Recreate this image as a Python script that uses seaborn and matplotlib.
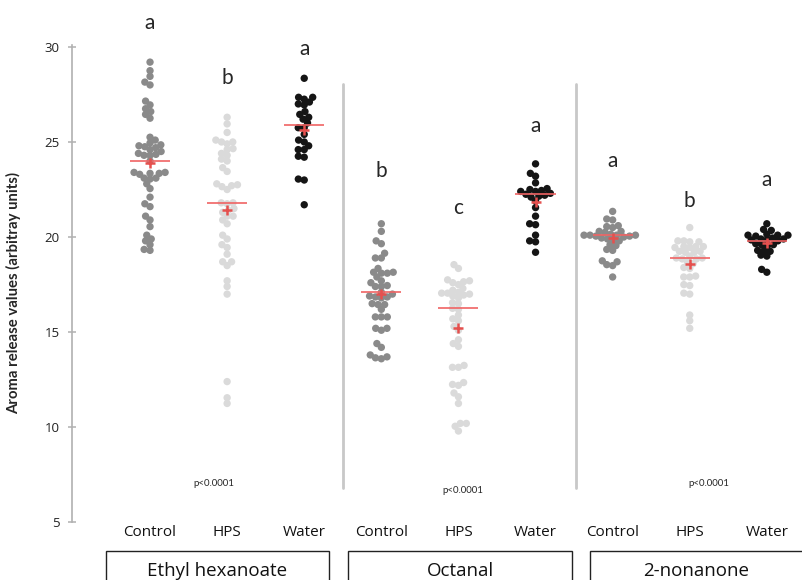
import numpy as np
import pandas as pd
import matplotlib
matplotlib.use("Agg")
import matplotlib.pyplot as plt
import seaborn as sns
from matplotlib.patches import Rectangle
from matplotlib.transforms import blended_transform_factory

compounds = ["Ethyl hexanoate", "Octanal", "2-nonanone"]
conditions = ["Control", "HPS", "Water"]

eh_control = [29.2, 28.75, 28.45, 28.15, 28.0, 27.15, 26.95, 26.75, 26.6, 26.45, 26.25, 25.25,
              25.1, 24.95, 24.85, 24.8, 24.75, 24.7, 24.6, 24.5, 24.4, 24.35, 24.3, 24.3, 24.0,
              23.4, 23.4, 23.35, 23.35, 23.3, 23.1, 23.1, 23.05, 22.8, 22.55, 22.1, 21.75, 21.6,
              21.1, 20.9, 20.55, 20.1, 19.9, 19.8, 19.6, 19.35, 19.3]
eh_hps = [26.3, 25.95, 25.5, 25.1, 25.0, 25.0, 24.9, 24.65, 24.6, 24.4, 24.3, 24.1, 24.0, 23.65,
          23.45, 22.8, 22.75, 22.7, 22.65, 22.5, 21.8, 21.8, 21.75, 21.5, 21.4, 21.3, 21.1, 21.1,
          20.9, 20.7, 20.1, 19.9, 19.6, 19.45, 19.1, 18.7, 18.7, 18.5, 17.7, 17.4, 17.0, 12.4,
          11.55, 11.25]
eh_water = [28.35, 27.35, 27.35, 27.25, 27.1, 27.0, 26.95, 26.6, 26.45, 26.3, 26.2, 26.0, 25.75,
            25.75, 25.4, 25.1, 25.0, 24.8, 24.6, 24.6, 24.25, 24.2, 23.05, 23.0, 21.7]
oc_control = [20.7, 20.3, 19.8, 19.65, 19.15, 18.9, 18.9, 18.35, 18.15, 18.1, 18.1, 18.15, 17.9,
              17.7, 17.6, 17.4, 17.4, 17.45, 17.1, 17.0, 16.9, 16.85, 16.85, 16.8, 16.5, 16.45,
              16.45, 16.2, 15.8, 15.8, 15.8, 15.2, 15.1, 15.2, 14.4, 14.2, 13.8, 13.7, 13.65, 13.6]
oc_hps = [18.55, 18.35, 17.75, 17.7, 17.65, 17.6, 17.5, 17.3, 17.2, 17.1, 17.05, 17.05, 17.0,
          16.95, 16.9, 16.8, 16.55, 16.5, 16.25, 16.2, 15.9, 15.7, 15.6, 15.3, 15.1, 14.6, 14.4,
          14.25, 13.25, 13.15, 13.15, 12.35, 12.25, 12.2, 11.8, 11.6, 11.25, 10.2, 10.2, 10.05, 9.8]
oc_water = [23.85, 23.35, 23.2, 22.85, 22.55, 22.5, 22.45, 22.4, 22.4, 22.3, 22.25, 22.2, 22.15,
            22.1, 21.9, 21.55, 21.1, 20.7, 20.65, 20.1, 19.8, 19.75, 19.2]
nn_control = [21.35, 20.95, 20.9, 20.6, 20.55, 20.5, 20.3, 20.3, 20.25, 20.15, 20.1, 20.1, 20.1,
              20.1, 20.05, 20.05, 20.0, 19.95, 19.9, 19.85, 19.8, 19.6, 19.55, 19.35, 19.3, 18.75,
              18.7, 18.55, 18.5, 17.9]
nn_hps = [20.5, 19.8, 19.8, 19.75, 19.75, 19.5, 19.5, 19.5, 19.45, 19.45, 19.25, 19.2, 19.2, 19.25,
          19.0, 18.9, 18.9, 18.85, 18.85, 18.7, 18.6, 18.4, 18.35, 17.9, 17.9, 17.95, 17.5, 17.45,
          17.05, 17.0, 15.9, 15.6, 15.2]
nn_water = [20.7, 20.4, 20.35, 20.15, 20.1, 20.1, 20.05, 20.1, 19.95, 19.9, 19.9, 19.85, 19.85,
            19.8, 19.65, 19.6, 19.6, 19.55, 19.3, 19.3, 19.25, 19.05, 19.0, 18.3, 18.15]

medians = [24.0, 21.8, 25.88, 17.1, 16.25, 22.26, 20.1, 18.88, 19.79]
means = [23.9, 21.4, 25.63, 17.0, 15.2, 21.86, 19.93, 18.58, 19.67]
letters = ["a", "b", "a", "b", "c", "a", "a", "b", "a"]
letter_y = [30.93, 28.05, 29.58, 23.14, 21.2, 25.54, 23.7, 21.56, 22.68]
p_texts = ["p<0.0001", "p<0.0001", "p<0.0001"]
p_x = [0.83, 4.06, 7.25]
p_y = [7.05, 6.68, 7.05]

series = [eh_control, eh_hps, eh_water, oc_control, oc_hps, oc_water, nn_control, nn_hps, nn_water]
keys = [f"{c}|{k}" for c in compounds for k in conditions]
rows = []
for key, vals in zip(keys, series):
    for v in vals:
        rows.append({"group": key, "value": v})
df = pd.DataFrame(rows)

cond_colors = {"Control": "#8a8a8a", "HPS": "#dadada", "Water": "#151515"}
palette = {k: cond_colors[k.split("|")[1]] for k in keys}

sns.set_theme(style="white")
plt.rcParams["font.family"] = ["Open Sans", "DejaVu Sans"]

fig = plt.figure(figsize=(8.02, 5.80), dpi=100)
ax = fig.add_axes([72 / 802, 57.7 / 580, (800 - 72) / 802, (522.3 - 45) / 580])

# swarm laid out with a compact spacing, then dots drawn larger (overlapping like the original)
sns.swarmplot(data=df, x="group", y="value", hue="group", order=keys, palette=palette,
              size=4.1, linewidth=0, legend=False, ax=ax, zorder=2)
ax.set_xlim(-1.012, 8.43)
ax.set_ylim(5, 30.1)
fig.canvas.draw()
for coll in list(ax.collections):
    if "draw" in coll.__dict__:
        del coll.draw
    coll.set_sizes([5.3 ** 2])

xs = np.arange(len(keys))
ax.hlines(medians, xs - 0.26, xs + 0.26, colors="#f06464", linewidth=1.2, zorder=3)
ax.plot(xs, means, linestyle="none", marker="+", markersize=7.5, markeredgewidth=1.8,
        color="#e5504e", zorder=4)

ax.set_xlim(-1.012, 8.43)
ax.set_ylim(5, 30.1)
ax.set_yticks([5, 10, 15, 20, 25, 30])
ax.set_xticks(xs)
ax.set_xticklabels([k.split("|")[1] for k in keys], fontsize=11, color="#111111")
ax.set_xlabel("")
ax.set_ylabel("")
for s in ["top", "right", "bottom"]:
    ax.spines[s].set_visible(False)
ax.spines["left"].set_color("#b0b0b0")
ax.spines["left"].set_linewidth(1.2)
ax.tick_params(axis="x", length=0, pad=2)
ax.tick_params(axis="y", left=True, direction="inout", length=6, width=1.1, color="#b0b0b0",
               labelsize=9.5, labelcolor="#222222", pad=6)

# divider lines between compounds
for dx in [(343 - 150) / 77.1, (575.5 - 150) / 77.1]:
    ax.plot([dx, dx], [6.8, 28.05], color="#c8c8c8", linewidth=2.0, zorder=1, clip_on=False)

# significance letters
for i, (lt, ly) in enumerate(zip(letters, letter_y)):
    ax.text(i, ly, lt, ha="center", va="baseline", fontsize=15, family=["Lato", "DejaVu Sans"],
            clip_on=False)

for px, py, pt in zip(p_x, p_y, p_texts):
    ax.text(px, py, pt, ha="center", va="center", fontsize=7, family=["Lato", "DejaVu Sans"])

# compound boxes below axis
trans = blended_transform_factory(ax.transData, fig.transFigure)
box_spans = [(-0.57, 2.32), (2.57, 5.47), (5.70, 8.6)]
box_top = (580 - 550.5) / 580
for (x0, x1), name in zip(box_spans, compounds):
    rect = Rectangle((x0, -0.1), x1 - x0, box_top + 0.1, transform=trans, fill=False,
                     edgecolor="#222222", linewidth=1.0, clip_on=False)
    fig.add_artist(rect)
    xc = (x0 + x1) / 2 if x1 < 8.43 else (x0 + 8.46) / 2
    ax.text(xc, (580 - 571.5) / 580, name, transform=trans, ha="center", va="center",
            fontsize=13.5, color="#111111", clip_on=False)

fig.text(14 / 802, (580 - 293.5) / 580, "Aroma release values (arbitray units)", rotation=90,
         ha="center", va="center", fontsize=10.7, fontweight="bold", family=["Lato", "DejaVu Sans"])

fig.savefig("out.png", dpi=100)
